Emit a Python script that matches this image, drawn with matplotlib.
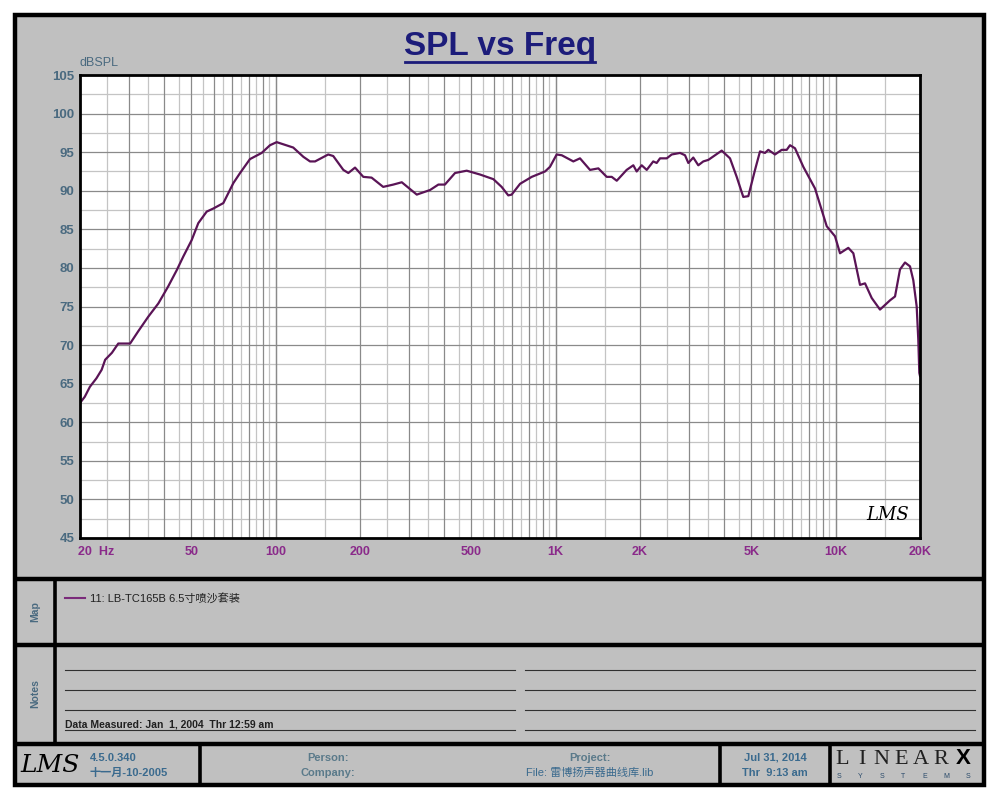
import numpy as np
import matplotlib
matplotlib.use("Agg")
import matplotlib.pyplot as plt
from matplotlib.transforms import blended_transform_factory

plt.rcParams['font.family'] = ['Liberation Sans', 'Noto Sans CJK SC', 'DejaVu Sans']

# ---------------- data ----------------
freq = [20, 20.8, 21.7, 22.9, 23.9, 24.6, 26, 27.4, 30.2, 32.3,
        35.1, 38.1, 41.3, 44.3, 46.8, 50.1, 52.9, 56.7, 59.9, 65,
        70.6, 74.6, 80.9, 89.1, 95.4, 100.8, 115.5, 125.5, 132.6, 138.2,
        154, 160.5, 174.4, 181.7, 192, 205.5, 220, 242, 263, 282,
        319, 356, 381, 402, 437, 481, 537, 599, 641, 677,
        696, 746, 821, 916, 954, 1008, 1051, 1156, 1221, 1326,
        1420, 1521, 1585, 1652, 1792, 1893, 1946, 2028, 2114, 2230,
        2294, 2358, 2492, 2596, 2780, 2896, 2976, 3100, 3230, 3366,
        3508, 3916, 4192, 4430, 4676, 4874, 5150, 5366, 5590, 5744,
        6070, 6414, 6684, 6868, 7156, 7662, 8434, 9288, 9942, 10360,
        11092, 11560, 12212, 12726, 13446, 14394, 15630, 16286, 16966, 17680,
        18422, 18928, 19462, 19722, 19886, 20000]
spl = [62.5, 63.3, 64.6, 65.7, 66.8, 68.1, 69.0, 70.2, 70.2, 71.8,
       73.7, 75.4, 77.6, 79.7, 81.5, 83.6, 85.8, 87.3, 87.7, 88.4,
       91.0, 92.3, 94.1, 94.9, 95.9, 96.3, 95.6, 94.4, 93.8, 93.8,
       94.7, 94.5, 92.7, 92.3, 93.0, 91.8, 91.7, 90.5, 90.8, 91.1,
       89.5, 90.1, 90.8, 90.8, 92.3, 92.6, 92.1, 91.5, 90.5, 89.4,
       89.5, 90.9, 91.8, 92.5, 93.1, 94.7, 94.6, 93.8, 94.2, 92.7,
       92.9, 91.8, 91.8, 91.3, 92.7, 93.3, 92.5, 93.3, 92.7, 93.8,
       93.6, 94.2, 94.2, 94.7, 94.9, 94.6, 93.6, 94.3, 93.3, 93.8,
       94.0, 95.2, 94.2, 91.8, 89.2, 89.3, 92.7, 95.1, 94.9, 95.3,
       94.7, 95.3, 95.3, 95.9, 95.5, 93.1, 90.3, 85.4, 84.1, 81.9,
       82.6, 81.9, 77.8, 78.0, 76.1, 74.6, 75.8, 76.3, 79.8, 80.7,
       80.2, 78.4, 75.0, 70.7, 66.4, 66.0]

x_tick_vals = [20, 50, 100, 200, 500, 1000, 2000, 5000, 10000, 20000]
x_tick_labels = ["20  Hz", "50", "100", "200", "500", "1K", "2K", "5K", "10K", "20K"]
y_ticks = list(range(45, 106, 5))

series_label = "11: LB-TC165B 6.5寸喷沙套装"
title = "SPL vs Freq"

# ---------------- figure ----------------
fig = plt.figure(figsize=(10, 8), dpi=100)
fig.patch.set_facecolor('white')

bg = fig.add_axes([0, 0, 1, 1], zorder=0)
bg.set_xlim(0, 1000)
bg.set_ylim(800, 0)
bg.axis('off')

gray = '#c0c0c0'
bg.add_patch(plt.Rectangle((15, 15), 969, 770, facecolor=gray, edgecolor='black', lw=3.2))
for yy in (579, 645, 744):
    bg.plot([15, 984], [yy, yy], color='black', lw=3.2, solid_capstyle='butt')
bg.plot([55, 55], [579, 744], color='black', lw=2.6)
for xx in (200, 720, 830):
    bg.plot([xx, xx], [744, 785], color='black', lw=2.6)

# title
bg.text(500, 46, title, ha='center', va='center', fontsize=24, fontweight='bold', color='#1c1c7a')
bg.plot([405, 595], [62, 62], color='#1c1c7a', lw=2)

bg.text(80, 63, "dBSPL", ha='left', va='center', fontsize=9, color='#4a6a80')

# Map panel
slate = '#4a6a80'
bg.text(35, 612, "Map", rotation=90, ha='center', va='center', fontsize=7.5, fontweight='bold', color=slate)
bg.plot([65, 85], [598, 598], color='#7a2a7a', lw=1.5)
bg.text(90, 598, series_label, ha='left', va='center', fontsize=8, color='#202020',
        family=['Liberation Sans', 'Noto Sans CJK SC'])

# Notes panel
bg.text(35, 694, "Notes", rotation=90, ha='center', va='center', fontsize=7.5, fontweight='bold', color=slate)
for yy in (670, 690, 710):
    bg.plot([65, 515], [yy, yy], color='#303030', lw=0.8)
for yy in (670, 690, 710, 730):
    bg.plot([525, 975], [yy, yy], color='#303030', lw=0.8)
bg.plot([65, 515], [730, 730], color='#303030', lw=0.8)
bg.text(65, 724.5, "Data Measured: Jan  1, 2004  Thr 12:59 am", ha='left', va='center',
        fontsize=7.5, fontweight='bold', color='#202020')

# footer
bg.text(50, 766, "LMS", ha='center', va='center', fontsize=18, style='italic',
        family='DejaVu Serif', color='black')
blue = '#3a6a8e'
bg.text(90, 758, "4.5.0.340", ha='left', va='center', fontsize=8, fontweight='bold', color=blue)
bg.text(90, 773, "十一月-10-2005", ha='left', va='center', fontsize=8, fontweight='bold', color=blue,
        family=['Liberation Sans', 'Noto Sans CJK SC'])
gtxt = '#5a7a8a'
bg.text(328, 758, "Person:", ha='center', va='center', fontsize=8, fontweight='bold', color=gtxt)
bg.text(328, 773, "Company:", ha='center', va='center', fontsize=8, fontweight='bold', color=gtxt)
bg.text(590, 758, "Project:", ha='center', va='center', fontsize=8, fontweight='bold', color=gtxt)
bg.text(590, 773, "File: 雷博扬声器曲线库.lib", ha='center', va='center', fontsize=8, color=blue,
        family=['Liberation Sans', 'Noto Sans CJK SC'])
bg.text(775, 758, "Jul 31, 2014", ha='center', va='center', fontsize=8, fontweight='bold', color=blue)
bg.text(775, 773, "Thr  9:13 am", ha='center', va='center', fontsize=8, fontweight='bold', color=blue)
# LINEARX logo
for i, ch in enumerate("LINEAR"):
    bg.text(842 + i * 19.8, 759, ch, ha='center', va='center', fontsize=16,
            family='Liberation Serif', color='#202020')
bg.text(963, 759, "X", ha='center', va='center', fontsize=16, fontweight='bold',
        family='Liberation Sans', color='black')
for i, ch in enumerate("SYSTEMS"):
    bg.text(839 + i * 21.5, 777, ch, ha='center', va='center', fontsize=5,
            color='#2a4a6a')

# ---------------- chart ----------------
ax = fig.add_axes([0.08, 1 - 538 / 800, 0.84, (538 - 75) / 800], zorder=1)
ax.set_facecolor('white')
ax.set_xscale('log')
ax.set_xlim(20, 20000)
ax.set_ylim(45, 105)

for dec in (10, 100, 1000, 10000):
    for m in np.arange(1.0, 10.01, 0.5):
        f = m * dec
        if f <= 20 or f >= 20000:
            continue
        if abs(m - round(m)) < 1e-6:
            ax.axvline(f, color='#8a8a8a', lw=0.9, zorder=1)
        else:
            ax.axvline(f, color='#c4c4c4', lw=0.9, zorder=0.9)
for v in np.arange(45, 105.1, 2.5):
    if v in (45, 105):
        continue
    if v % 5 == 0:
        ax.axhline(v, color='#8a8a8a', lw=0.9, zorder=1)
    else:
        ax.axhline(v, color='#c4c4c4', lw=0.9, zorder=0.9)

ax.plot(freq, spl, color='#5a1456', lw=1.6, zorder=3, solid_joinstyle='round')

for s in ax.spines.values():
    s.set_color('black')
    s.set_linewidth(2.0)
    s.set_zorder(4)

ax.set_xticks([])
ax.xaxis.set_minor_locator(matplotlib.ticker.NullLocator())
ax.set_yticks(y_ticks)
ax.set_yticklabels([str(v) for v in y_ticks])
ax.tick_params(axis='y', length=0, pad=4, labelsize=9.5, labelcolor='#4a6a80')
for t in ax.get_yticklabels():
    t.set_fontweight('bold')

trans = blended_transform_factory(ax.transData, ax.transAxes)
for v, lab in zip(x_tick_vals, x_tick_labels):
    ha = 'left' if v == 20 else 'center'
    ax.text(v * (0.985 if v == 20 else 1.0), -0.03, lab, transform=trans, ha=ha, va='center',
            fontsize=9, fontweight='bold', color='#8a2a8a', clip_on=False)

ax.text(0.962, 0.05, "LMS", transform=ax.transAxes, ha='center', va='center', fontsize=13,
        style='italic', family='DejaVu Serif', color='black', zorder=5)

fig.savefig('out.png', dpi=100, facecolor='white')
